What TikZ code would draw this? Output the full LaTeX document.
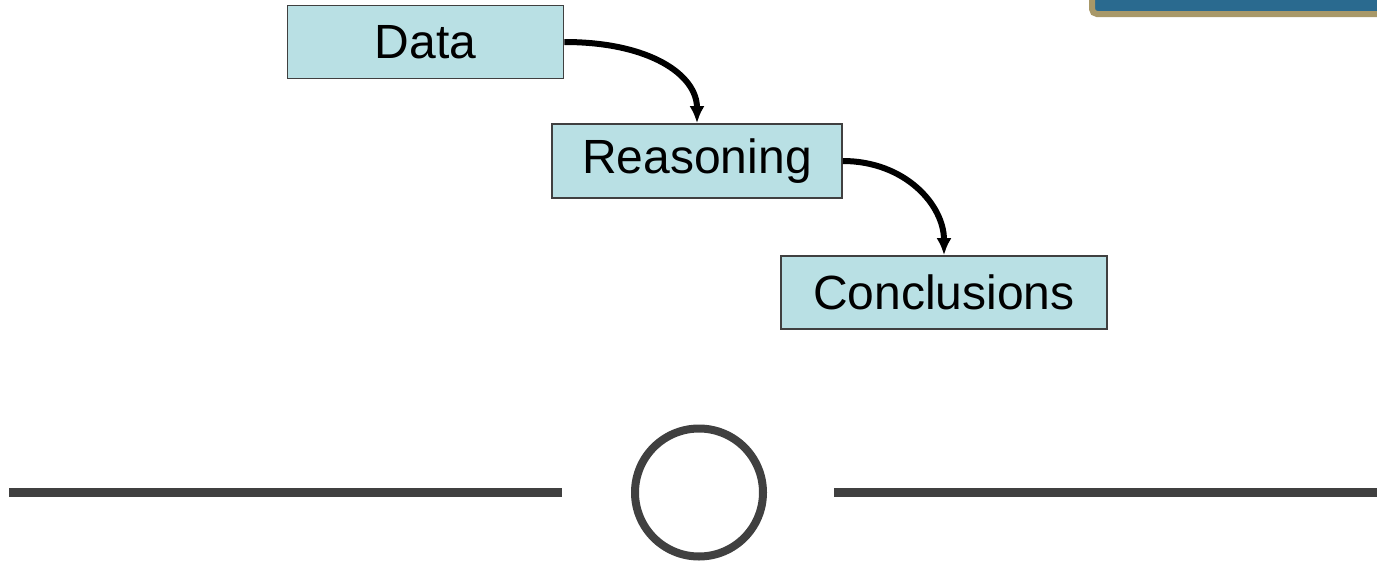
\documentclass[tikz,border=0pt]{standalone}
\usepackage{fontspec}
\setmainfont{Liberation Sans}
\usetikzlibrary{arrows.meta}
\definecolor{boxfill}{HTML}{B9E0E4}
\definecolor{boxline}{HTML}{404040}
\definecolor{barblue}{HTML}{2A6A8F}
\definecolor{bartan}{HTML}{A89868}
\definecolor{rulegray}{HTML}{404040}
\tikzset{
  stepbox/.style={draw=boxline, line width=1.6pt, fill=boxfill, inner sep=0pt,
    font=\fontsize{48}{56}\selectfont, text=black},
  flowarrow/.style={line width=6pt, -{Latex[length=17pt,width=15pt]}},
  rulebar/.style={draw=rulegray, line width=9pt},
}
\begin{document}
\begin{tikzpicture}[x=1pt,y=-1pt]
\useasboundingbox (0,0) rectangle (1377,560);
% top-right bar
\draw[bartan, fill=barblue, line width=6pt, rounded corners=5pt] (1092,-20) rectangle (1395,14);
% boxes
\node[stepbox, minimum width=276pt, minimum height=73pt] (data) at (425.5,42) {Data};
\node[stepbox, minimum width=290pt, minimum height=74pt] (reason) at (697,161) {Reasoning};
\node[stepbox, minimum width=326pt, minimum height=73pt] (concl) at (944,292.5) {Conclusions};
% arrows
\draw[flowarrow] (data.east) .. controls (650,42) and (697,75) .. (reason.north);
\draw[flowarrow] (reason.east) .. controls (905,161) and (944,205) .. (concl.north);
% bottom rule
\coordinate (l1) at (9,492);
\coordinate (l2) at (562,492);
\coordinate (r1) at (834,492);
\coordinate (r2) at (1377,492);
\draw[rulebar] (l1) -- (l2);
\draw[rulebar] (r1) -- (r2);
\node[draw=rulegray, line width=8pt, circle, minimum size=128pt, inner sep=0pt] (ring) at (699,492.5) {};
\end{tikzpicture}
\end{document}
